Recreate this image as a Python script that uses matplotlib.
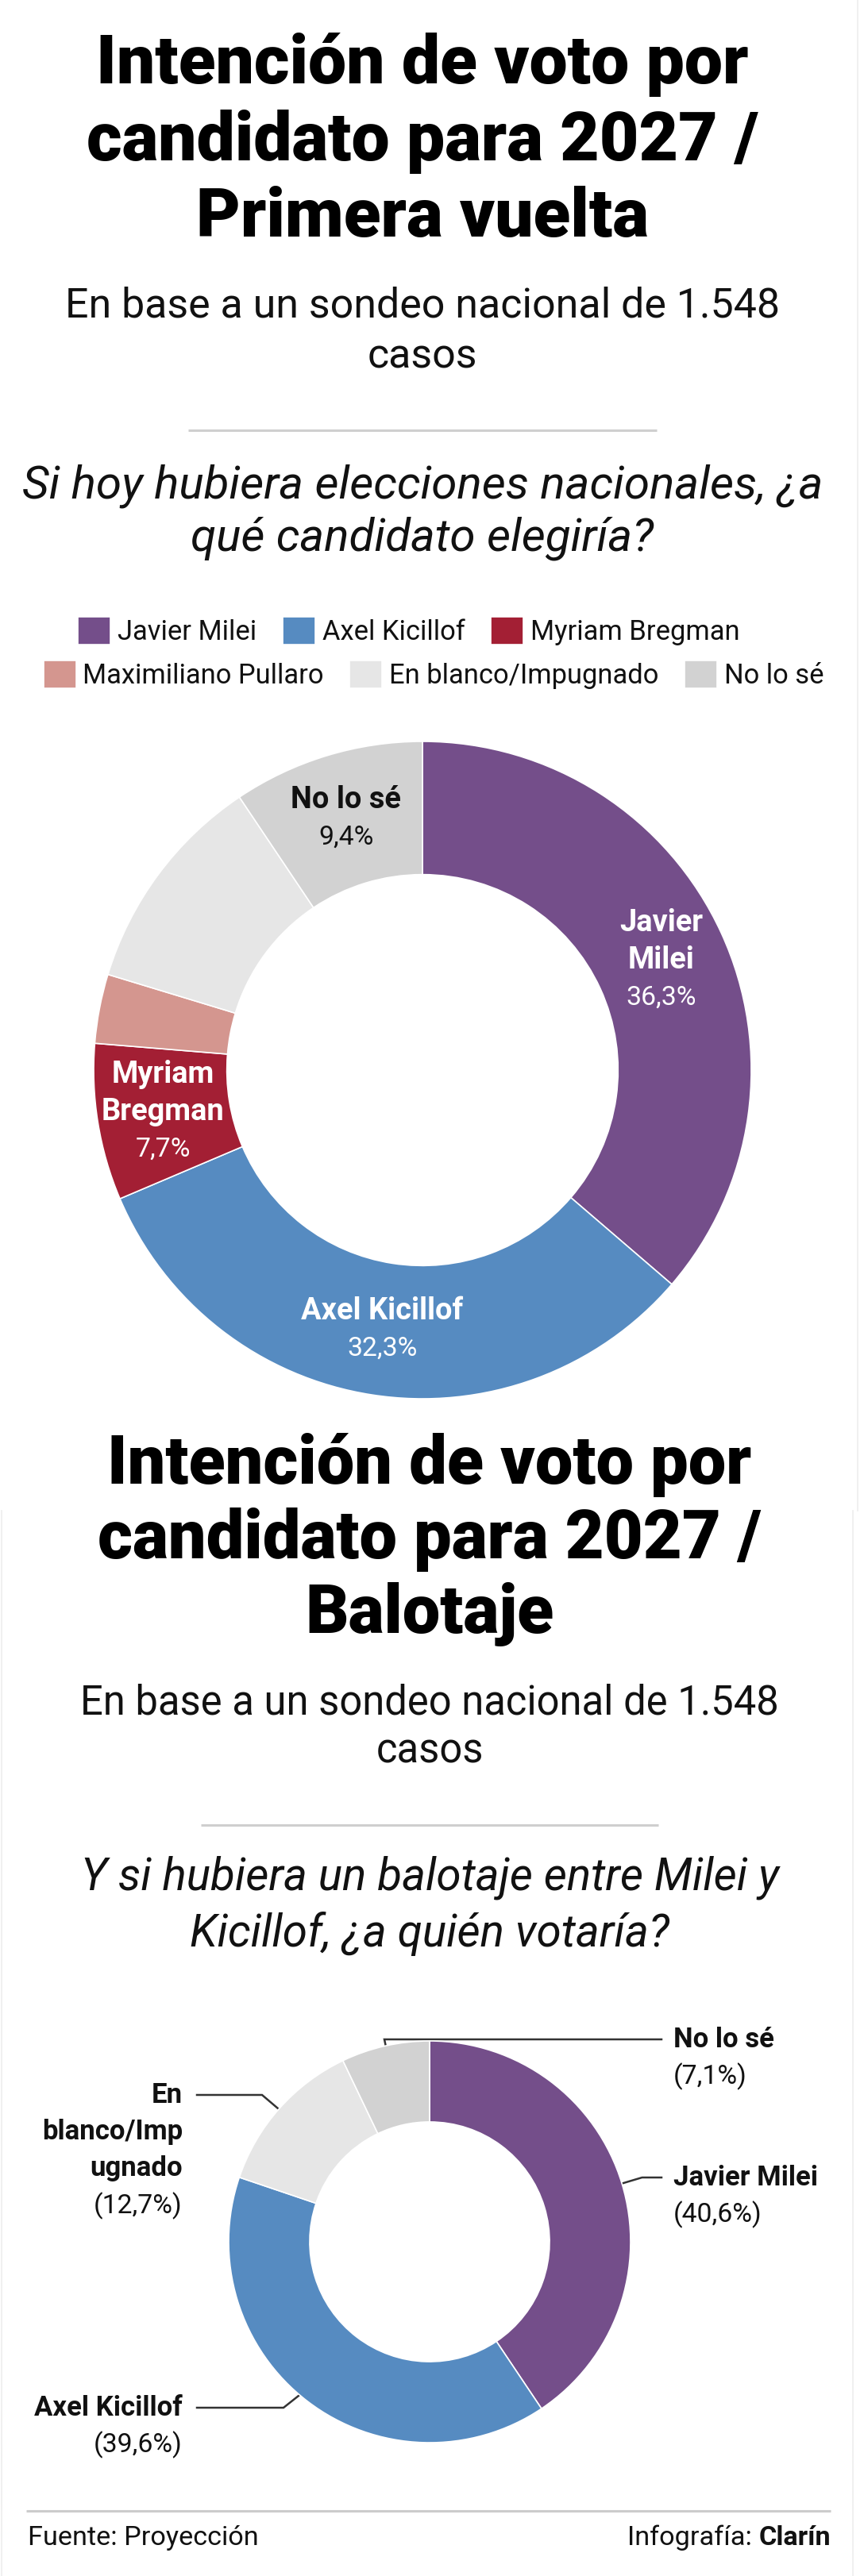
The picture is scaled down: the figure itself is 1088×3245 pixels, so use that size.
import matplotlib
matplotlib.use('Agg')
import matplotlib.pyplot as plt
import matplotlib.transforms as mtransforms
import numpy as np

W, H = 1088, 3245
DPI = 100

# ---------------- data ----------------
cand1 = ['Javier Milei', 'Axel Kicillof', 'Myriam Bregman',
         'Maximiliano Pullaro', 'En blanco/Impugnado', 'No lo sé']
vals1 = [36.3, 32.3, 7.7, 3.4, 10.9, 9.4]
inlabels1 = ['Javier\nMilei', 'Axel Kicillof', 'Myriam\nBregman', None, None, 'No lo sé']
colors1 = ['#744e8a', '#568bc1', '#a31f34', '#d4968f', '#e6e6e6', '#d2d2d2']
txtcolors1 = ['white', 'white', 'white', None, None, '#111111']

cand2 = ['Javier Milei', 'Axel Kicillof', 'En blanco/Impugnado', 'No lo sé']
vals2 = [40.6, 39.6, 12.7, 7.1]
names2 = ['Javier Milei', 'Axel Kicillof', 'En\nblanco/Imp\nugnado', 'No lo sé']
colors2 = ['#744e8a', '#568bc1', '#e6e6e6', '#d2d2d2']

title1 = ['Intención de voto por', 'candidato para 2027 /', 'Primera vuelta']
title2 = ['Intención de voto por', 'candidato para 2027 /', 'Balotaje']
subtitle = ['En base a un sondeo nacional de 1.548', 'casos']
question1 = ['Si hoy hubiera elecciones nacionales, ¿a', 'qué candidato elegiría?']
question2 = ['Y si hubiera un balotaje entre Milei y', 'Kicillof, ¿a quién votaría?']
source = 'Fuente: Proyección'
credit = ['Infografía: ', 'Clarín']


def pct(v, paren=False):
    s = f"{v:.1f}%".replace('.', ',')
    return f"({s})" if paren else s


TITLE_F = ['Roboto', 'DejaVu Sans']
BODY_F = ['Roboto', 'Liberation Sans', 'DejaVu Sans']
INK = '#111111'

fig = plt.figure(figsize=(W / DPI, H / DPI), dpi=DPI)
fig.patch.set_facecolor('white')
ax = fig.add_axes([0, 0, 1, 1])
ax.set_xlim(0, W)
ax.set_ylim(H, 0)
ax.axis('off')
R_ = fig.canvas.get_renderer()


def fit(s, target, **props):
    t = ax.text(0, 0, s, size=10, **props)
    w = t.get_window_extent(renderer=R_).width
    t.remove()
    return 10 * target / w


# faint frame edges
ax.plot([1080, 1080], [0, 1903], color='#ededed', lw=1.2)
ax.plot([1074, 1074], [1903, H], color='#ededed', lw=1.2)
ax.plot([2, 2], [1903, H], color='#ededed', lw=1.2)

TPROP = dict(family=TITLE_F, weight=900, color='black')
SPROP = dict(family=BODY_F, weight='normal', color=INK)
QPROP = dict(family=BODY_F, weight='normal', style='italic', color=INK)


def header(cx, title, tw, tb, sw, sb, sepy, sepx, q, qw, qb):
    ts = fit(title[0], tw, **TPROP)
    for line, y in zip(title, tb):
        ax.text(cx, y, line, ha='center', va='baseline', size=ts, **TPROP)
    ss = fit(subtitle[0], sw, **SPROP)
    for line, y in zip(subtitle, sb):
        ax.text(cx, y, line, ha='center', va='baseline', size=ss, **SPROP)
    ax.plot(sepx, [sepy, sepy], color='#cfcfcf', lw=2.2, solid_capstyle='butt')
    qs = fit(q[0], qw, **QPROP)
    for line, y in zip(q, qb):
        ax.text(cx, y, line, ha='center', va='baseline', size=qs, **QPROP)


header(532, title1, 820, [105, 202, 298], 901, [400, 463], 542.5, [237, 827],
       question1, 1005, [627, 694])
header(541, title2, 810, [1869, 1963, 2057], 881, [2159, 2220], 2299, [253, 829],
       question2, 875, [2380, 2452])


def pie_axes(cx, cy, R):
    a = fig.add_axes([(cx - R) / W, (H - cy - R) / H, 2 * R / W, 2 * R / H])
    a.patch.set_alpha(0)
    return a


# ---------------- donut 1 ----------------
cx1, cy1, R1 = 532, 1348, 414
ap1 = pie_axes(cx1, cy1, R1)
w1, _ = ap1.pie(vals1, colors=colors1, startangle=90, counterclock=False, radius=1,
                wedgeprops=dict(width=0.405, edgecolor='white', linewidth=1.2))
ap1.set_xlim(-1, 1)
ap1.set_ylim(-1, 1)
ap1.axis('off')

NPROP = dict(family=BODY_F, weight='bold')
PPROP = dict(family=BODY_F, weight='normal')
ns1 = fit('Axel Kicillof', 205, **NPROP)
ps1 = fit(pct(vals1[1]), 88, **PPROP)
LS = 47
for w, lab, v, tc in zip(w1, inlabels1, vals1, txtcolors1):
    if lab is None:
        continue
    t = np.deg2rad((w.theta1 + w.theta2) / 2)
    x, y = 0.8 * np.cos(t), 0.8 * np.sin(t)
    lines = lab.split('\n') + [pct(v)]
    n = len(lines)
    for i, s in enumerate(lines):
        off = ((n - 1) / 2 - i) * LS
        tr = mtransforms.offset_copy(ap1.transData, fig=fig, x=0, y=off, units='dots')
        last = i == n - 1
        ap1.text(x, y, s, transform=tr, ha='center', va='center',
                 size=ps1 if last else ns1, color=tc, **(PPROP if last else NPROP))

# legend rows
ls = fit('Maximiliano Pullaro', 303, **SPROP)
hs = 41 / (ls * DPI / 72)
prop = dict(family=BODY_F, size=ls)
kw = dict(loc='center', ncol=3, frameon=False, prop=prop, handlelength=hs,
          handleheight=hs, handletextpad=0.25, columnspacing=0.95,
          borderpad=0, borderaxespad=0)
leg1 = fig.legend(handles=list(w1[:3]), labels=cand1[:3],
                  bbox_to_anchor=(515 / W, 1 - 795 / H), **kw)
leg2 = fig.legend(handles=list(w1[3:]), labels=cand1[3:],
                  bbox_to_anchor=(546 / W, 1 - 850 / H), **kw)
for lg in (leg1, leg2):
    for tx in lg.get_texts():
        tx.set_color(INK)

# ---------------- donut 2 ----------------
cx2, cy2, R2 = 541, 2824, 253
ap2 = pie_axes(cx2, cy2, R2)
w2, _ = ap2.pie(vals2, colors=colors2, startangle=90, counterclock=False, radius=1,
                wedgeprops=dict(width=0.403, edgecolor='white', linewidth=1.2))
ap2.set_xlim(-1, 1)
ap2.set_ylim(-1, 1)
ap2.axis('off')

ns2 = fit('Javier Milei', 182, **NPROP)
ps2 = fit(pct(vals2[0], True), 112, **PPROP)
# leader layout: (elbow x, elbow y, end x, text x, side)
leaders = [
    (808.5, 2743, 833, 848, 'right'),
    (357, 3033, 248, 230, 'left'),
    (330, 2639, 248, 230, 'left'),
    (484, 2569, 833, 848, 'right'),
]
for w, nm, v, (ex, ey, endx, tx, side) in zip(w2, names2, vals2, leaders):
    t = np.deg2rad((w.theta1 + w.theta2) / 2)
    px = cx2 + 0.8 * R2 * np.cos(t)
    py = cy2 - 0.8 * R2 * np.sin(t)
    ax.plot([px, ex, endx], [py, ey, ey], color='#333333', lw=1.8, zorder=5,
            solid_joinstyle='miter')
    ax.plot([px], [py], 'o', color='#222222', ms=6, zorder=6)
    lines = nm.split('\n')
    ha = 'left' if side == 'right' else 'right'
    for i, s in enumerate(lines):
        ax.text(tx, ey + i * 46, s, ha=ha, va='center', size=ns2, color=INK, **NPROP)
    ax.text(tx, ey + len(lines) * 46.5, pct(v, paren=True), ha=ha, va='center',
            size=ps2, color=INK, **PPROP)

# ---------------- footer ----------------
ax.plot([33, 1046], [3163, 3163], color='#cccccc', lw=2.2, solid_capstyle='butt')
fs = fit(source, 291, **SPROP)
ax.text(35, 3197, source, ha='left', va='center', size=fs, **SPROP)
tb = ax.text(1046, 3197, credit[1], ha='right', va='center', family=BODY_F,
             weight='bold', size=fs, color=INK)
bb = tb.get_window_extent(renderer=R_)
xleft = ax.transData.inverted().transform((bb.x0, bb.y0))[0]
ax.text(xleft, 3197, credit[0], ha='right', va='center', size=fs, **SPROP)

fig.savefig('out.png', dpi=DPI, facecolor='white')
